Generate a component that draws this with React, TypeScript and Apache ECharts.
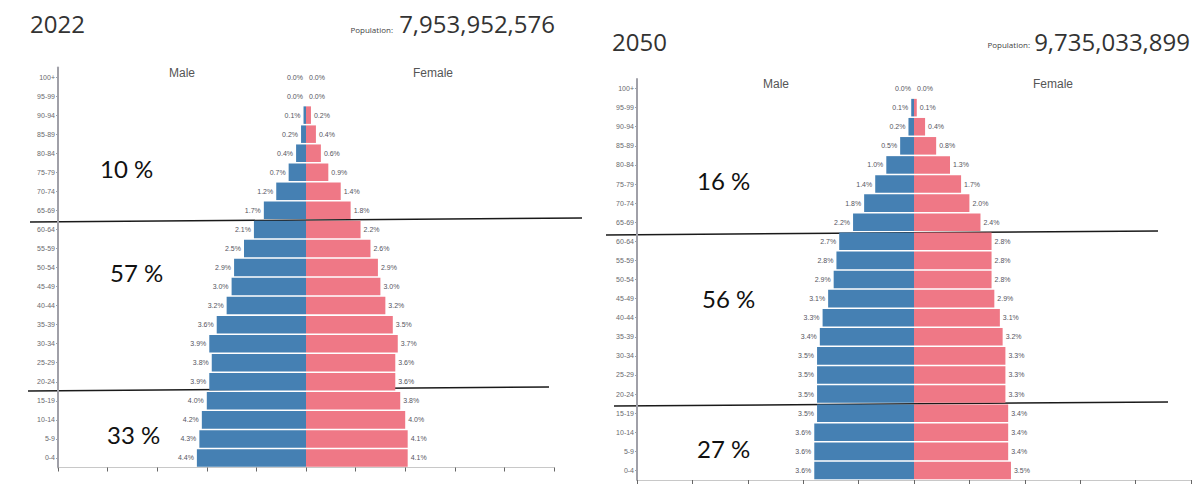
import React, { useEffect, useRef } from "react";
import * as echarts from "echarts";

const ages = ["100+", "95-99", "90-94", "85-89", "80-84", "75-79", "70-74", "65-69", "60-64", "55-59", "50-54", "45-49", "40-44", "35-39", "30-34", "25-29", "20-24", "15-19", "10-14", "5-9", "0-4"];
const male2022 = [0.0, 0.0, 0.1, 0.2, 0.4, 0.7, 1.2, 1.7, 2.1, 2.5, 2.9, 3.0, 3.2, 3.6, 3.9, 3.8, 3.9, 4.0, 4.2, 4.3, 4.4];
const female2022 = [0.0, 0.0, 0.2, 0.4, 0.6, 0.9, 1.4, 1.8, 2.2, 2.6, 2.9, 3.0, 3.2, 3.5, 3.7, 3.6, 3.6, 3.8, 4.0, 4.1, 4.1];
const male2050 = [0.0, 0.1, 0.2, 0.5, 1.0, 1.4, 1.8, 2.2, 2.7, 2.8, 2.9, 3.1, 3.3, 3.4, 3.5, 3.5, 3.5, 3.5, 3.6, 3.6, 3.6];
const female2050 = [0.0, 0.1, 0.4, 0.8, 1.3, 1.7, 2.0, 2.4, 2.8, 2.8, 2.8, 2.9, 3.1, 3.2, 3.3, 3.3, 3.3, 3.4, 3.4, 3.4, 3.5];
const years = ["2022", "2050"];
const populations = ["7,953,952,576", "9,735,033,899"];
const shares2022 = ["10 %", "57 %", "33 %"];
const shares2050 = ["16 %", "56 %", "27 %"];

const BLUE = "#4580b3";
const PINK = "#ef7886";
const LABEL_FONT = "'Liberation Sans', Arial, sans-serif";
const TITLE_FONT = "'Open Sans', sans-serif";
const SHARE_FONT = "Lato, sans-serif";

export default function App() {
  const ref = useRef<HTMLDivElement>(null);
  useEffect(() => {
    document.body.style.margin = "0";
    const chart = echarts.init(ref.current!, null, { renderer: "svg" });

    const xAxisBase = (gridIndex: number) => ({
      type: "value",
      gridIndex,
      min: -10,
      max: 10,
      interval: 2,
      axisLine: { show: true, lineStyle: { color: "#c8c8c8", width: 1 } },
      axisTick: { show: true, length: 4, lineStyle: { color: "#666" } },
      axisLabel: { show: false },
      splitLine: { show: false },
    });
    const yAxisBase = (gridIndex: number) => ({
      type: "category",
      gridIndex,
      data: ages,
      inverse: true,
      axisLine: { show: true, onZero: false, lineStyle: { color: "#a0a0a8", width: 2 } },
      axisTick: { show: true, alignWithLabel: true, length: 2, lineStyle: { color: "#a0a0a8" } },
      axisLabel: { fontSize: 7, color: "#6a6a6e", fontFamily: LABEL_FONT, margin: 3 },
    });
    const barSeries = (name: string, idx: number, vals: number[], sign: number, color: string) => ({
      name,
      type: "bar",
      xAxisIndex: idx,
      yAxisIndex: idx,
      stack: "s" + idx,
      barCategoryGap: "8%",
      data: vals.map((v) => sign * v),
      itemStyle: { color },
      label: {
        show: true,
        position: sign < 0 ? "left" : "right",
        distance: 3,
        fontSize: 7,
        color: "#555560",
        fontFamily: LABEL_FONT,
        formatter: (p: any) => Math.abs(p.value).toFixed(1) + "%",
      },
    });

    const txt = (text: string, x: number, y: number, size: number, font: string, color: string, align = "left") => ({
      type: "text",
      x,
      y,
      style: { text, fontSize: size, fontFamily: font, fill: color, textAlign: align, textVerticalAlign: "middle" },
      silent: true,
    });
    const ln = (x1: number, y1: number, x2: number, y2: number) => ({
      type: "line",
      shape: { x1, y1, x2, y2 },
      style: { stroke: "#1a1a1a", lineWidth: 1.5 },
      silent: true,
    });

    chart.setOption({
      animation: false,
      grid: [
        { left: 58, width: 496, top: 67.5, height: 400 },
        { left: 637, width: 554, top: 79, height: 401 },
      ],
      xAxis: [xAxisBase(0), xAxisBase(1)],
      yAxis: [yAxisBase(0), yAxisBase(1)],
      series: [
        barSeries("Male 2022", 0, male2022, -1, BLUE),
        barSeries("Female 2022", 0, female2022, 1, PINK),
        barSeries("Male 2050", 1, male2050, -1, BLUE),
        barSeries("Female 2050", 1, female2050, 1, PINK),
      ],
      graphic: [
        txt(years[0], 30, 23, 24, TITLE_FONT, "#333"),
        txt("Population:", 393, 29, 8, TITLE_FONT, "#444", "right"),
        txt(populations[0], 555, 23, 24, TITLE_FONT, "#333", "right"),
        txt(years[1], 612, 41, 24, TITLE_FONT, "#333"),
        txt("Population:", 1030, 44, 8, TITLE_FONT, "#444", "right"),
        txt(populations[1], 1190, 41, 24, TITLE_FONT, "#333", "right"),
        txt("Male", 182, 73, 12, LABEL_FONT, "#555", "center"),
        txt("Female", 433, 73, 12, LABEL_FONT, "#555", "center"),
        txt("Male", 776, 84, 12, LABEL_FONT, "#555", "center"),
        txt("Female", 1053, 84, 12, LABEL_FONT, "#555", "center"),
        txt(shares2022[0], 100, 168, 24, SHARE_FONT, "#111"),
        txt(shares2022[1], 110, 272, 24, SHARE_FONT, "#111"),
        txt(shares2022[2], 107, 434, 24, SHARE_FONT, "#111"),
        txt(shares2050[0], 697, 180, 24, SHARE_FONT, "#111"),
        txt(shares2050[1], 702, 298, 24, SHARE_FONT, "#111"),
        txt(shares2050[2], 697, 448, 24, SHARE_FONT, "#111"),
        ln(30, 222, 582, 218),
        ln(28, 391, 549, 387),
        ln(606, 235, 1158, 231),
        ln(614, 406, 1168, 402),
      ],
    });
    return () => chart.dispose();
  }, []);
  return <div ref={ref} style={{ width: 1196, height: 484 }} />;
}
